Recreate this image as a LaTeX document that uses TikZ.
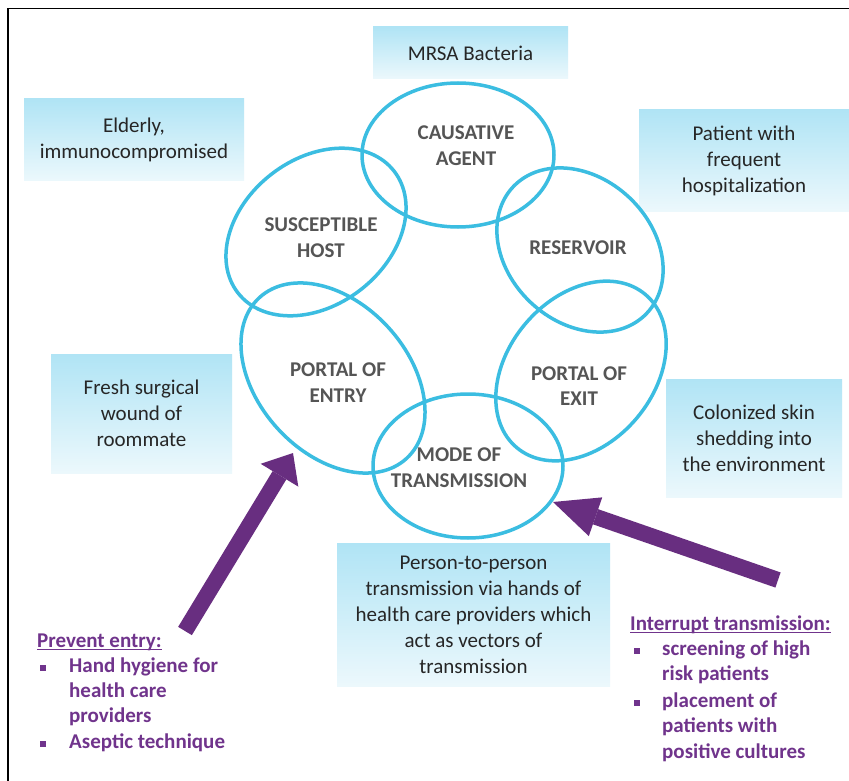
\documentclass[tikz,border=0pt]{standalone}
\usepackage{fontspec}
\setmainfont{Carlito}
\usetikzlibrary{arrows.meta}
\definecolor{ringcol}{RGB}{59,189,225}
\definecolor{arrowpurple}{RGB}{104,46,128}
\definecolor{textpurple}{RGB}{112,52,140}
\definecolor{boxtop}{RGB}{176,228,245}
\definecolor{boxbot}{RGB}{236,248,252}
\definecolor{labelgray}{RGB}{85,85,85}
\definecolor{boxtext}{RGB}{38,38,38}
\begin{document}
\begin{tikzpicture}[x=1pt,y=1pt,
  infobox/.style={top color=boxtop, bottom color=boxbot, draw=none, inner sep=0pt, align=center, text=boxtext, font=\fontsize{21}{26}\selectfont},
  ringlabel/.style={align=center, text=labelgray, font=\fontsize{21}{25.5}\selectfont\bfseries, inner sep=0pt},
  ringline/.style={draw=ringcol, line width=3.5pt},
  listline/.style={anchor=base west, inner sep=0pt, text=textpurple, font=\fontsize{21}{26}\selectfont\bfseries},
  bulletbox/.style={fill=textpurple, minimum size=6pt, inner sep=0pt},
  bigarrow/.style={draw=arrowpurple, fill=arrowpurple, line width=16pt}
]
\useasboundingbox (0,0) rectangle (849,-781);
\fill[white] (0,0) rectangle (849,-781);
\draw[line width=1.8pt, line join=miter] (8,-781) -- (8,-8.5) -- (849,-8.5);

% info boxes
\node[infobox, minimum width=195pt, minimum height=52pt] (mrsa) at (470.5,-53) {MRSA Bacteria};
\node[infobox, minimum width=220pt, minimum height=82pt] (elderly) at (134,-140) {Elderly,\\immunocompromised};
\node[infobox, minimum width=210pt, minimum height=101pt] (patient) at (744,-160.5) {Patient with\\frequent\\hospitalization};
\node[infobox, minimum width=181pt, minimum height=119pt] (fresh) at (141.5,-413.5) {Fresh surgical\\wound of\\roommate};
\node[infobox, minimum width=176pt, minimum height=118pt] (colon) at (754,-438) {Colonized skin\\shedding into\\the environment};
\node[infobox, minimum width=273pt, minimum height=143pt] (person) at (473.5,-614.5) {Person-to-person\\transmission via hands of\\health care providers which\\act as vectors of\\transmission};

% ring of ellipses
\draw[ringline] (458,-155) ellipse [x radius=96, y radius=72];
\draw[ringline, rotate around={38:(316,-232)}] (316,-232) ellipse [x radius=99, y radius=73];
\draw[ringline, rotate around={-43.5:(580,-250)}] (580,-250) ellipse [x radius=92, y radius=72];
\draw[ringline, rotate around={-47.6:(333,-378)}] (333,-378) ellipse [x radius=109, y radius=75];
\draw[ringline, rotate around={50:(581,-371)}] (581,-371) ellipse [x radius=100, y radius=73];
\draw[ringline] (468,-466) ellipse [x radius=95, y radius=72];

% ring labels
\node[ringlabel] (agent) at (466,-145.5) {CAUSATIVE\\AGENT};
\node[ringlabel] (host) at (321,-237.5) {SUSCEPTIBLE\\HOST};
\node[ringlabel] (reservoir) at (578,-248) {RESERVOIR};
\node[ringlabel] (entry) at (338,-382.5) {PORTAL OF\\ENTRY};
\node[ringlabel] (exit) at (579,-386) {PORTAL OF\\EXIT};
\node[ringlabel] (mode) at (459,-467.5) {MODE OF\\TRANSMISSION};

% left list
\node[listline] (pe) at (37,-647) {Prevent entry:};
\draw[textpurple, line width=1.4pt] ([yshift=-2.5pt]pe.base west) -- ([yshift=-2.5pt]pe.base east);
\node[bulletbox] (peb1) at (43,-668) {};
\node[listline] (pe1) at (69,-672) {Hand hygiene for};
\node[listline] (pe2) at (69,-697) {health care};
\node[listline] (pe3) at (69,-722) {providers};
\node[bulletbox] (peb2) at (43,-744) {};
\node[listline] (pe4) at (69,-748) {Aseptic technique};

% right list
\node[listline] (it) at (630,-630) {Interrupt transmission:};
\draw[textpurple, line width=1.4pt] ([yshift=-2.5pt]it.base west) -- ([yshift=-2.5pt]it.base east);
\node[bulletbox] (itb1) at (637,-651) {};
\node[listline] (it1) at (662,-655) {screening of high};
\node[listline] (it2) at (662,-680) {risk patients};
\node[bulletbox] (itb2) at (637,-703) {};
\node[listline] (it3) at (662,-707) {placement of};
\node[listline] (it4) at (662,-732) {patients with};
\node[listline] (it5) at (662,-758) {positive cultures};

% arrows
\coordinate (petail) at (185,-631);
\coordinate (petip) at (293,-453);
\coordinate (ittail) at (778,-580);
\coordinate (ittip) at (553,-502);
\draw[bigarrow, -{Triangle[width=44pt,length=26pt,line width=0pt]}] (petail) -- (petip);
\draw[bigarrow, -{Triangle[width=41pt,length=45pt,line width=0pt]}] (ittail) -- (ittip);
\end{tikzpicture}
\end{document}
